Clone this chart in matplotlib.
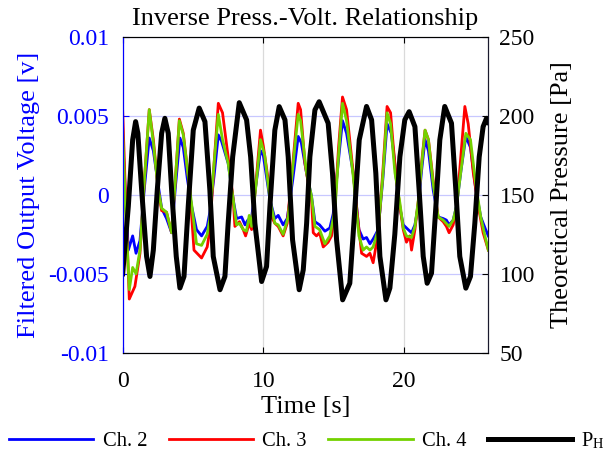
import matplotlib
matplotlib.use("Agg")
import matplotlib.pyplot as plt
import numpy as np

plt.rcParams['font.family'] = ['Liberation Serif', 'DejaVu Serif']
plt.rcParams['mathtext.fontset'] = 'stix'

# Ch. 2 (blue)
t_ch2 = [0, 0.4, 0.71, 0.95, 1.23, 1.55, 1.89, 2.18, 2.5, 2.77, 3.12, 3.48, 3.75, 4.07, 4.31, 4.6,
         4.9, 5.25, 5.61, 6.01, 6.2, 6.5, 6.8, 7.03, 7.5, 7.86, 8.1, 8.46, 8.7, 8.9, 9.17, 9.5,
         9.8, 10.0, 10.47, 10.82, 11.06, 11.41, 11.7, 12.1, 12.48, 12.7, 13.07, 13.43, 13.67, 14.0,
         14.38, 14.73, 14.97, 15.3, 15.63, 15.92, 16.39, 16.8, 17.1, 17.34, 17.58, 17.81, 18.17,
         18.5, 18.8, 19.1, 19.3, 19.6, 19.95, 20.3, 20.54, 20.78, 21.03, 21.25, 21.5, 21.74, 22.08,
         22.43, 22.79, 23.02, 23.21, 23.5, 23.74, 24.05, 24.4, 24.73, 25.1, 25.46, 25.81, 26.0]
v_ch2 = [0.0035, -0.0035, -0.0026, -0.0037, -0.0029, 0.0005, 0.0036, 0.0028, 0.0008, -0.00085,
         -0.0015, -0.0024, 0.0005, 0.0036, 0.003, 0.001, -0.0007, -0.0022, -0.0026, -0.002, -0.0011,
         0.0012, 0.0038, 0.0034, 0.002, -0.0003, -0.0015, -0.0014, -0.0019, -0.0016, -0.0014, 0.0008,
         0.0028, 0.0025, -0.0003, -0.0015, -0.0013, -0.0019, -0.0015, 0.001, 0.0037, 0.0033, 0.0014,
         -0.0001, -0.0017, -0.0019, -0.0023, -0.0021, -0.0012, 0.0018, 0.0047, 0.0039, 0.0014,
         -0.0022, -0.0028, -0.0027, -0.0031, -0.0028, -0.0022, 0.001, 0.0045, 0.0039, 0.0024,
         -0.0003, -0.0019, -0.0022, -0.0024, -0.0019, -0.0006, 0.0015, 0.0035, 0.0028, 0.0003,
         -0.0014, -0.0015, -0.0016, -0.0019, -0.0016, -0.0007, 0.0015, 0.0037, 0.003, 0.0004,
         -0.0014, -0.0022, -0.0026]

# Ch. 3 (red)
t_ch3 = [0, 0.2, 0.47, 0.87, 1.23, 1.55, 1.89, 2.18, 2.53, 2.77, 3.12, 3.48, 3.75, 4.03, 4.31,
         4.78, 5.07, 5.61, 6.01, 6.2, 6.5, 6.8, 7.1, 7.5, 7.86, 7.98, 8.3, 8.57, 8.74, 9.0, 9.17,
         9.5, 9.8, 10.0, 10.35, 10.59, 10.82, 11.06, 11.41, 11.7, 12.1, 12.48, 12.65, 12.96, 13.2,
         13.43, 13.55, 13.78, 14.0, 14.26, 14.61, 14.85, 15.1, 15.35, 15.63, 15.92, 16.39, 16.75,
         16.99, 17.34, 17.58, 17.81, 18.17, 18.5, 18.8, 19.05, 19.24, 19.47, 19.71, 19.95, 20.18,
         20.42, 20.54, 20.78, 21.03, 21.25, 21.5, 21.74, 22.08, 22.43, 22.79, 23.02, 23.21, 23.5,
         23.74, 24.05, 24.33, 24.57, 24.93, 25.28, 25.63, 26.0]
v_ch3 = [0.0053, 0.0, -0.0066, -0.0058, -0.0037, 0.001, 0.0054, 0.0035, 0.0003, -0.001, -0.0011,
         -0.0024, 0.001, 0.0048, 0.0039, 0.0003, -0.0035, -0.004, -0.0033, -0.0022, 0.002, 0.0058,
         0.0052, 0.0024, -0.0003, -0.002, -0.0017, -0.0022, -0.0026, -0.0018, -0.0022, 0.001,
         0.0041, 0.0031, 0.00095, -0.0014, -0.0018, -0.002, -0.0026, -0.0018, 0.002, 0.0058, 0.0054,
         0.002, 0.0007, -0.0003, -0.0024, -0.0026, -0.0024, -0.0033, -0.003, -0.0026, -0.0007, 0.003,
         0.0062, 0.0054, 0.0014, -0.0018, -0.0037, -0.0039, -0.0037, -0.0043, -0.0024, 0.0015,
         0.0056, 0.0052, 0.0031, 0.0009, -0.0007, -0.0022, -0.003, -0.0026, -0.0035, -0.0022,
         -0.0003, 0.002, 0.0041, 0.0035, 0.0009, -0.0014, -0.0017, -0.002, -0.0024, -0.0019,
         -0.0009, 0.0025, 0.0056, 0.0045, 0.0014, -0.0007, -0.0024, -0.0035]

# Ch. 4 (green)
t_ch4 = [0, 0.2, 0.47, 0.71, 0.95, 1.23, 1.55, 1.89, 2.18, 2.53, 2.77, 3.12, 3.48, 3.75, 4.03,
         4.31, 4.78, 5.25, 5.61, 6.01, 6.2, 6.5, 6.8, 7.1, 7.5, 7.86, 8.1, 8.3, 8.57, 8.8, 9.0,
         9.17, 9.5, 9.8, 10.1, 10.47, 10.82, 11.06, 11.41, 11.77, 12.1, 12.48, 12.65, 13.07, 13.43,
         13.67, 14.0, 14.38, 14.73, 15.1, 15.35, 15.63, 15.92, 16.39, 16.8, 17.1, 17.34, 17.58,
         17.81, 18.17, 18.5, 18.8, 19.05, 19.36, 19.71, 19.95, 20.18, 20.54, 20.78, 21.03, 21.25,
         21.5, 21.74, 22.08, 22.43, 22.79, 23.21, 23.5, 23.74, 24.05, 24.4, 24.73, 25.1, 25.46,
         25.81, 26.0]
v_ch4 = [0.0041, -0.001, -0.006, -0.0046, -0.005, -0.0035, 0.001, 0.0054, 0.0033, 0.0003,
         -0.00085, -0.0011, -0.0024, 0.001, 0.0047, 0.0038, 0.0003, -0.0031, -0.0032, -0.0025,
         -0.0015, 0.002, 0.0051, 0.0035, 0.002, -0.0003, -0.0019, -0.0018, -0.0022, -0.0023,
         -0.0013, -0.002, 0.0008, 0.0035, 0.0025, -0.0003, -0.0018, -0.0019, -0.0025, -0.0014,
         0.0018, 0.0051, 0.0047, 0.0014, -0.0001, -0.002, -0.0022, -0.0031, -0.0026, -0.0009,
         0.0025, 0.0058, 0.0047, 0.0012, -0.0026, -0.0035, -0.0033, -0.0035, -0.0033, -0.0022,
         0.0012, 0.0052, 0.0045, 0.0014, -0.0005, -0.0021, -0.0026, -0.0027, -0.002, -0.0003,
         0.0018, 0.0041, 0.0035, 0.0007, -0.0014, -0.0016, -0.002, -0.0016, -0.0007, 0.0015,
         0.0039, 0.0035, 0.0007, -0.0014, -0.0028, -0.0035]

# theoretical pressure P_H
t_ph = [0, 0.4, 0.71, 0.92, 1.08, 1.35, 1.7, 1.94, 2.18, 2.46, 2.77, 3.0, 3.24, 3.48, 3.81, 4.07,
        4.36, 4.66, 5.02, 5.44, 5.85, 6.2, 6.44, 6.92, 7.27, 7.5, 7.82, 8.29, 8.81, 9.1, 9.4, 9.88,
        10.23, 10.47, 10.82, 11.13, 11.54, 11.77, 12.08, 12.55, 12.84, 13.08, 13.31, 13.67, 13.97,
        14.61, 14.92, 15.21, 15.64, 16.15, 16.44, 16.82, 17.34, 17.7, 18.0, 18.29, 18.72, 19.0,
        19.35, 19.71, 20.06, 20.37, 20.78, 21.08, 21.37, 21.65, 21.96, 22.27, 22.55, 22.9, 23.38,
        23.69, 23.97, 24.4, 24.73, 25.04, 25.35, 25.63, 25.87, 26.0]
p_ph = [100, 142.6, 184.8, 196.4, 189, 153, 111, 98.3, 115, 153, 189, 198.5, 189, 153, 111, 91,
        98.3, 142.6, 191, 205, 196.4, 153, 111, 89.9, 98.3, 132, 174, 208.4, 197.5, 174, 132, 95.1,
        104.6, 142.6, 191, 205.9, 197.5, 174, 121.5, 89.9, 102.5, 132, 174, 203.8, 209, 195.4,
        163.7, 121.5, 83.5, 94, 132, 184.8, 206, 197.5, 163.7, 111, 83.5, 91, 125, 174, 197.5,
        202.7, 193.2, 153, 111, 94, 100.4, 142.6, 184.8, 206, 195.4, 153, 111, 90.9, 98.3, 132,
        174, 193.2, 198.5, 196]

left_ticks = [-0.01, -0.005, 0, 0.005, 0.01]
left_ticklabels = ['-0.01', '-0.005', '0', '0.005', '0.01']
right_ticks = [50, 100, 150, 200, 250]

fig = plt.figure(figsize=(6.07, 4.57), dpi=100)
ax = fig.add_axes([0.2021, 0.2282, 0.6024, 0.6908])

l2, = ax.plot(t_ch2, v_ch2, color=(0, 0, 1), lw=2, solid_joinstyle='round')
l3, = ax.plot(t_ch3, v_ch3, color=(1, 0, 0), lw=2, solid_joinstyle='round')
l4, = ax.plot(t_ch4, v_ch4, color=(0.45, 0.82, 0.0), lw=2, solid_joinstyle='round')
ax.set_xlim(0, 26)
ax.set_ylim(-0.01, 0.01)
ax.set_yticks(left_ticks)
ax.set_yticklabels(left_ticklabels)
ax.set_xticks([0, 10, 20])
ax.tick_params(axis='both', direction='in', labelsize=17, length=4, width=0.8, pad=10)
ax.tick_params(axis='x', top=True, pad=13)
ax.tick_params(axis='y', colors='blue')
ax.spines['left'].set_color('blue')
for s in ['top', 'bottom']:
    ax.spines[s].set_color('#262626')
ax.set_xlabel('Time [s]', fontsize=19, labelpad=3)
ax.set_ylabel('Filtered Output Voltage [v]', fontsize=19, color='blue', labelpad=6)
ax.set_title('Inverse Press.-Volt. Relationship', fontsize=19, pad=9)

# grid: blue-ish horizontal lines, gray vertical lines
ax.yaxis.grid(True, color='#c8c8ff', lw=0.9)
ax.xaxis.grid(True, color='#dadada', lw=0.9)
ax.set_axisbelow(True)

ax2 = ax.twinx()
lp, = ax2.plot(t_ph, p_ph, color='black', lw=3.6, solid_joinstyle='round')
ax2.set_ylim(50, 250)
ax2.set_yticks(right_ticks)
ax2.tick_params(axis='y', direction='in', labelsize=17, length=4, width=0.8, pad=8)
ax2.spines['right'].set_color('#1a1a2e')
ax2.spines['left'].set_color('blue')
ax2.set_ylabel('Theoretical Pressure [Pa]', fontsize=19, labelpad=12)

fig.legend([l2, l3, l4, lp], ['Ch. 2', 'Ch. 3', 'Ch. 4', r'P$_\mathregular{H}$'],
           loc='center left', bbox_to_anchor=(0.015, 1 - 441 / 457), ncol=4, frameon=False,
           fontsize=14.8, handlelength=4.1, handletextpad=0.45, columnspacing=1.05,
           borderpad=0, borderaxespad=0)

fig.savefig('out.png', dpi=100)
